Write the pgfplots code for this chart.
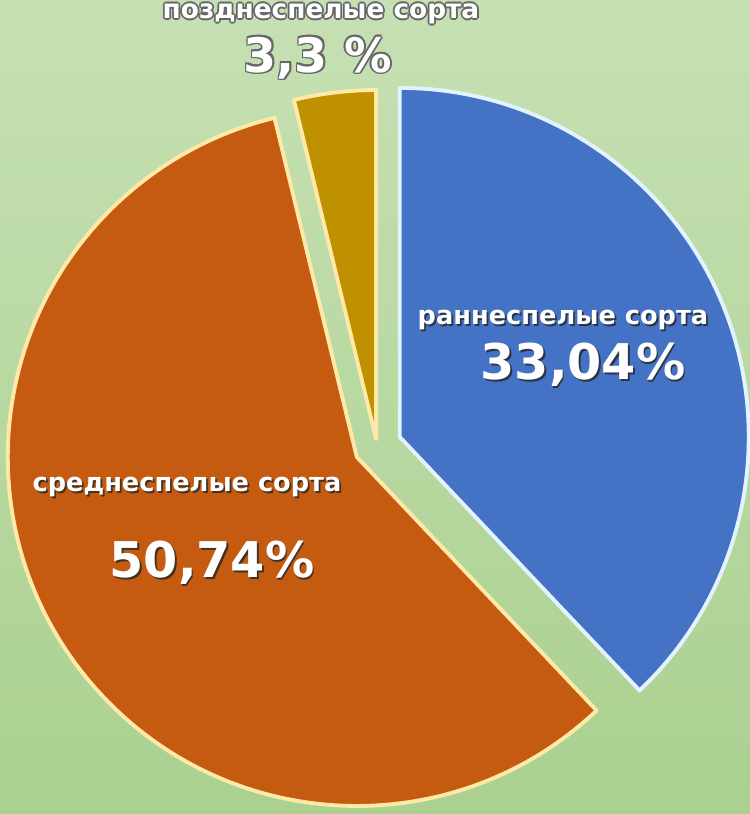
\documentclass[border=0pt]{standalone}
\usepackage{fontspec}
\setmainfont{DejaVu Sans}
\usepackage{pgfplots}
\usepackage{pgfplotstable}
\pgfplotsset{compat=1.18}
\usetikzlibrary{calc}
\definecolor{bgtop}{HTML}{C6E0B3}
\definecolor{bgbot}{HTML}{AAD190}
\definecolor{pblue}{HTML}{4472C4}
\definecolor{porange}{HTML}{C55A11}
\definecolor{pgold}{HTML}{BF9000}
\definecolor{bdblue}{HTML}{E4F2FF}
\definecolor{bdwarm}{HTML}{FFE9A8}

% value (%), explode offset (px)
\pgfplotstableread{
value offset
33.04 24.5
50.74 23
3.3   7
}\piedata

\newcommand\slice[5]{% start, end, offset, fill, border
  \pgfmathsetmacro\midang{(#1+#2)/2}
  \pgfmathsetmacro\offcm{#3*0.01}
  \filldraw[fill=#4, draw=#5, line width=1.1pt, line join=round]
    ($(axis cs:377,368)+(\midang:\offcm cm)$) -- ++(#1:3.49cm)
    arc[start angle=#1, end angle=#2, radius=3.49cm] -- cycle;
}
\newcommand\shadowtext[4]{% x, y, font, text
  \node[text=black!85, opacity=0.8, font=#3] at ($(axis cs:#1,#2)+(0.5pt,-0.5pt)$) {#4};
  \node[text=white, font=#3] at (axis cs:#1,#2) {#4};
}
\newcommand\outlinetext[4]{% x, y, font, text
  \foreach \a in {0,45,...,315}{
    \node[text=black!60, font=#3] at ($(axis cs:#1,#2)+(\a:0.5pt)$) {#4};
  }
  \node[text=white, font=#3] at (axis cs:#1,#2) {#4};
}

\begin{document}
\begin{tikzpicture}
\begin{axis}[
  width=7.5cm, height=8.14cm, scale only axis,
  xmin=0, xmax=750, ymin=0, ymax=814,
  axis lines=none, clip=false]
\pgfplotsextra{%
  \pgfplotstablegetelem{0}{value}\of\piedata \let\va\pgfplotsretval
  \pgfplotstablegetelem{1}{value}\of\piedata \let\vb\pgfplotsretval
  \pgfplotstablegetelem{2}{value}\of\piedata \let\vc\pgfplotsretval
  \pgfplotstablegetelem{0}{offset}\of\piedata \let\oa\pgfplotsretval
  \pgfplotstablegetelem{1}{offset}\of\piedata \let\ob\pgfplotsretval
  \pgfplotstablegetelem{2}{offset}\of\piedata \let\oc\pgfplotsretval
  \pgfmathsetmacro\tot{\va+\vb+\vc}
  \pgfmathsetmacro\aA{90}
  \pgfmathsetmacro\aB{90-\va/\tot*360}
  \pgfmathsetmacro\aC{\aB-\vb/\tot*360}
  \pgfmathsetmacro\aD{\aC-\vc/\tot*360}
  \fill[top color=bgtop, bottom color=bgbot] (axis cs:0,0) rectangle (axis cs:750,814);
  \slice{\aA}{\aB}{\oa}{pblue}{bdblue}
  \slice{\aB}{\aC}{\ob}{porange}{bdwarm}
  \slice{\aC}{\aD}{\oc}{pgold}{bdwarm}
  \shadowtext{563}{494}{\bfseries\fontsize{7.3}{9}\selectfont}{раннеспелые сорта}
  \shadowtext{583}{449}{\bfseries\fontsize{14}{16}\selectfont}{33,04\%}
  \shadowtext{187}{327}{\bfseries\fontsize{7.3}{9}\selectfont}{среднеспелые сорта}
  \shadowtext{212}{251}{\bfseries\fontsize{14}{16}\selectfont}{50,74\%}
  \outlinetext{321}{800}{\bfseries\fontsize{7.5}{9}\selectfont}{позднеспелые сорта}
  \outlinetext{318}{756}{\bfseries\fontsize{13.5}{16}\selectfont}{3,3 \%}
}
\end{axis}
\pgfresetboundingbox
\path (current axis.south west) rectangle (current axis.north east);
\end{tikzpicture}
\end{document}
